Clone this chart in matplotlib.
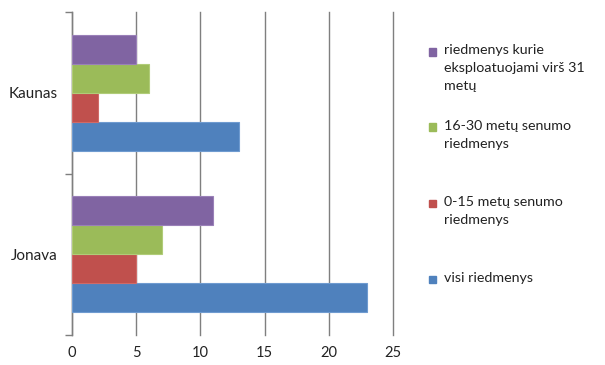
import matplotlib
matplotlib.use('Agg')
import matplotlib.pyplot as plt
from matplotlib.patches import Rectangle
from matplotlib.ticker import FixedLocator

plt.rcParams['font.family'] = ['Lato', 'DejaVu Sans']

# Data
cities = ['Jonava', 'Kaunas']
series_names = [
    'visi riedmenys',
    '0-15 metų senumo\nriedmenys',
    '16-30 metų senumo\nriedmenys',
    'riedmenys kurie\neksploatuojami virš 31\nmetų',
]
visi = [23, 13]
nauji_0_15 = [5, 2]
vid_16_30 = [7, 6]
virs_31 = [11, 5]
x_ticks = [0, 5, 10, 15, 20, 25]

values = [visi, nauji_0_15, vid_16_30, virs_31]
colors = ['#4F81BD', '#C0504D', '#9BBB59', '#8064A2']
edges = ['#6F9BD0', '#D06A67', '#B0CC78', '#9A80B8']

fig = plt.figure(figsize=(6.05, 3.65), dpi=100)
ax = fig.add_axes([72 / 605, 1 - 335 / 365, (393 - 72) / 605, (335 - 12) / 365])

h = 0.18
for i, (vals, c, ec) in enumerate(zip(values, colors, edges)):
    offs = (i - 1.5) * h
    ax.barh([k + offs for k in range(len(cities))], vals, height=h,
            color=c, edgecolor=ec, linewidth=0.8, zorder=3)

ax.set_xlim(0, 25)
ax.set_ylim(-0.5, 1.5)
ax.set_xticks(x_ticks)
ax.set_yticks(range(len(cities)))
ax.set_yticklabels(cities)
ax.yaxis.set_minor_locator(FixedLocator([-0.5, 0.5, 1.5]))

ax.grid(axis='x', color='#7f7f7f', linewidth=1, zorder=0)
for gl in ax.get_xgridlines():
    gl.set_clip_on(False)
for s in ['top', 'right', 'bottom']:
    ax.spines[s].set_visible(False)
ax.spines['left'].set_color('#7f7f7f')
ax.spines['left'].set_linewidth(1)

ax.tick_params(axis='y', which='major', length=0, pad=10, labelsize=11, labelcolor='#222222')
ax.tick_params(axis='y', which='minor', length=5, color='#7f7f7f', width=1)
ax.tick_params(axis='x', length=0, pad=8, labelsize=10.5, labelcolor='#222222')

# Legend drawn by hand so each entry sits like the original layout
legend_rows = [(3, 52), (2, 127), (1, 203), (0, 279)]
for idx, ypx in legend_rows:
    fy = 1 - ypx / 365
    fig.patches.append(Rectangle((429 / 605, fy - 3.5 / 365), 7 / 605, 7 / 365,
                                 transform=fig.transFigure, color=colors[idx]))
    fig.text(444 / 605, fy + 7.5 / 365, series_names[idx], fontsize=10.3, color='#222222',
             va='top', ha='left', linespacing=1.6)

fig.savefig('out.png', dpi=100)
